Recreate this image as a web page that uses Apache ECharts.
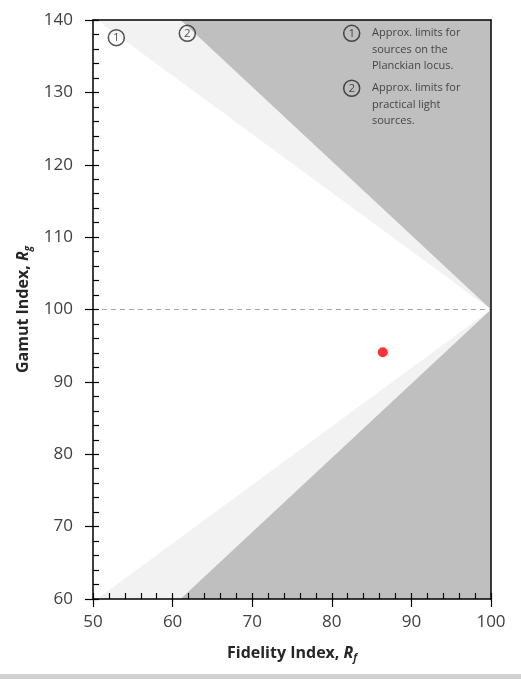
<!DOCTYPE html>
<html>
<head>
<meta charset="utf-8">
<script src="https://cdn.jsdelivr.net/npm/echarts@6/dist/echarts.min.js"></script>
<style>
html,body{margin:0;padding:0;background:#fff;}
#chart{width:521px;height:679px;}
</style>
</head>
<body>
<div id="chart"></div>
<script>
// ---- data ----
const fidelityRange = [50, 100];   // Rf axis
const gamutRange = [60, 140];      // Rg axis
const tickStep = 10;
const referenceGamut = 100;        // dashed reference line

// boundary vertices [Rf, Rg]
const planckianUpper = [[100, 100], [50.5, 140]];
const planckianLower = [[100, 100], [50.5, 60]];
const practicalUpper = [[100, 100], [61, 140]];
const practicalLower = [[100, 100], [61, 60]];

// measured source
const sourcePoints = [[86.4, 94.1]];

// annotation markers [Rf, Rg, label]
const markerCircles = [[52.93, 137.56, '1'], [61.85, 138.16, '2'], [82.5, 138.16, '1'], [82.5, 130.57, '2']];
const legendTexts = [
  [85.05, 135.9, 'Approx. limits for\nsources on the\nPlanckian locus.'],
  [85.05, 128.3, 'Approx. limits for\npractical light\nsources.']
];

// ---- polygons built from boundaries ----
const whitePoly = [[fidelityRange[0], gamutRange[1]], planckianUpper[1], planckianUpper[0], planckianLower[1], [fidelityRange[0], gamutRange[0]]];
const darkPoly = [practicalUpper[1], [fidelityRange[1], gamutRange[1]], [fidelityRange[1], gamutRange[0]], practicalLower[1], practicalLower[0]];

const FONT = 'Open Sans';

function polySeries(poly, color) {
  return {
    type: 'custom', silent: true, z: 1,
    data: [[poly[0][0], poly[0][1]]],
    renderItem: function (params, api) {
      return {
        type: 'polygon',
        shape: { points: poly.map(p => api.coord(p)) },
        style: { fill: color, stroke: null }
      };
    }
  };
}

const chart = echarts.init(document.getElementById('chart'), null, { renderer: 'canvas' });

const xCommon = { type: 'value', min: fidelityRange[0], max: fidelityRange[1], interval: tickStep, splitLine: { show: false }, z: 10 };
const yCommon = { type: 'value', min: gamutRange[0], max: gamutRange[1], interval: tickStep, splitLine: { show: false }, z: 10 };

const titleRich = {
  t: { fontFamily: FONT, fontSize: 16, fontWeight: 'bold', color: '#262626', lineHeight: 20 },
  i: { fontFamily: FONT, fontSize: 16, fontWeight: 'bold', fontStyle: 'italic', color: '#262626', lineHeight: 20 },
  s: { fontFamily: FONT, fontSize: 10, fontWeight: 'bold', fontStyle: 'italic', color: '#262626', lineHeight: 10, verticalAlign: 'bottom' }
};

chart.setOption({
  animation: false,
  backgroundColor: '#ffffff',
  grid: { left: 93, right: 30, top: 20, bottom: 80, show: true, backgroundColor: '#f2f2f2', borderWidth: 0 },
  xAxis: [
    Object.assign({}, xCommon, {
      position: 'bottom',
      axisLine: { show: true, onZero: false, lineStyle: { color: '#000', width: 1.5 } },
      axisTick: { show: true, inside: true, length: 6, lineStyle: { color: '#000', width: 1.2 } },
      minorTick: { show: true, splitNumber: 5, length: 6, lineStyle: { color: '#000', width: 1.2 } },
      axisLabel: { margin: 15, fontFamily: FONT, fontSize: 17, color: '#404040' },
      name: '{t|Fidelity Index, }{i|R}{s|f}',
      nameLocation: 'middle', nameGap: 44,
      nameTextStyle: { rich: titleRich }
    }),
    Object.assign({}, xCommon, {
      position: 'bottom',
      axisLine: { show: false, onZero: false },
      axisTick: { show: true, inside: false, length: 8, lineStyle: { color: '#000', width: 1.2 } },
      axisLabel: { show: false }
    }),
    Object.assign({}, xCommon, {
      position: 'top',
      axisLine: { show: true, onZero: false, lineStyle: { color: '#000', width: 1.5 } },
      axisTick: { show: false }, axisLabel: { show: false }
    })
  ],
  yAxis: [
    Object.assign({}, yCommon, {
      position: 'left',
      axisLine: { show: true, onZero: false, lineStyle: { color: '#000', width: 1.5 } },
      axisTick: { show: true, inside: true, length: 6, lineStyle: { color: '#000', width: 1.2 } },
      minorTick: { show: true, splitNumber: 5, length: 6, lineStyle: { color: '#000', width: 1.2 } },
      axisLabel: { margin: 20, fontFamily: FONT, fontSize: 17, color: '#404040' },
      name: '{t|Gamut Index, }{i|R}{s|g}',
      nameLocation: 'middle', nameGap: 56,
      nameTextStyle: { rich: titleRich }
    }),
    Object.assign({}, yCommon, {
      position: 'left',
      axisLine: { show: false, onZero: false },
      axisTick: { show: true, inside: false, length: 8, lineStyle: { color: '#000', width: 1.2 } },
      axisLabel: { show: false }
    }),
    Object.assign({}, yCommon, {
      position: 'right',
      axisLine: { show: true, onZero: false, lineStyle: { color: '#000', width: 1.5 } },
      axisTick: { show: false }, axisLabel: { show: false }
    })
  ],
  series: [
    polySeries(whitePoly, '#ffffff'),
    polySeries(darkPoly, '#bfbfbf'),
    {
      type: 'scatter', silent: true, z: 5,
      data: sourcePoints,
      symbol: 'circle', symbolSize: 10,
      itemStyle: { color: '#ff0000' },
      markLine: {
        silent: true, symbol: 'none', animation: false,
        label: { show: false },
        lineStyle: { color: '#a6a6a6', type: [5, 4], width: 1.2 },
        data: [{ yAxis: referenceGamut }]
      }
    },
    {
      type: 'scatter', silent: true, z: 6,
      data: markerCircles.map(d => ({ value: [d[0], d[1]], label: { formatter: d[2] } })),
      symbol: 'circle', symbolSize: 16,
      itemStyle: { color: 'rgba(0,0,0,0)', borderColor: '#262626', borderWidth: 1.5 },
      label: { show: true, position: 'inside', fontFamily: FONT, fontSize: 11.5, color: '#262626' }
    },
    {
      type: 'scatter', silent: true, z: 6,
      data: legendTexts.map(d => ({ value: [d[0], d[1]], label: { formatter: d[2] } })),
      symbol: 'circle', symbolSize: 0,
      label: { show: true, position: 'right', distance: 0, align: 'left', fontFamily: FONT, fontSize: 11, lineHeight: 16.5, color: '#262626' }
    }
  ],
  graphic: [
    { type: 'rect', z: 100, silent: true, shape: { x: 0, y: 674, width: 521, height: 5 }, style: { fill: '#d0d0d0' } }
  ]
});
</script>
</body>
</html>
